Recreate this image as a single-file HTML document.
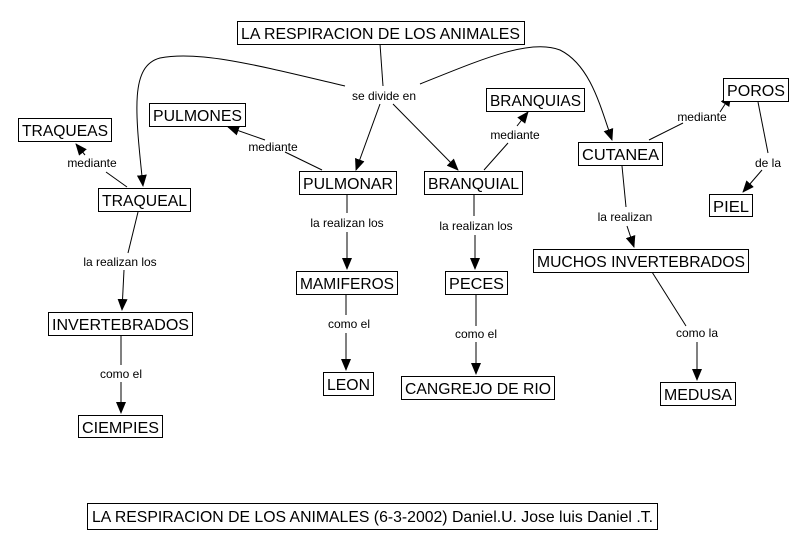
<!DOCTYPE html>
<html><head><meta charset="utf-8"><style>
html,body{margin:0;padding:0;background:#fff;}
svg{display:block;}
.b{fill:#fff;stroke:#000;stroke-width:1;}
.t{font-family:"Liberation Sans",sans-serif;font-size:16px;fill:#000;}
.l{font-family:"Liberation Sans",sans-serif;font-size:12px;fill:#000;}
.c{fill:none;stroke:#000;stroke-width:1;}
</style></head><body>
<svg width="808" height="549" viewBox="0 0 808 549" xmlns="http://www.w3.org/2000/svg">
<defs><marker id="a" markerWidth="12" markerHeight="10" refX="11" refY="5" orient="auto" markerUnits="userSpaceOnUse"><path d="M0,0 L12,5 L0,10 z" fill="#000"/></marker></defs>
<g class="c">
<path d="M380,44 L383,86"/>
<path d="M345,86 C260,66 200,50 160,58 C130,66 135,110 143,186" marker-end="url(#a)"/>
<path d="M420,84 C480,60 530,38 560,50 C590,65 600,105 612,140" marker-end="url(#a)"/>
<path d="M380,104 L356,170" marker-end="url(#a)"/>
<path d="M393,104 L458,170" marker-end="url(#a)"/>
<path d="M127,187 L106,172"/><path d="M85,155 L76,144" marker-end="url(#a)"/>
<path d="M322,170 L285,152"/><path d="M265,140 L228,127" marker-end="url(#a)"/>
<path d="M484,170 L508,143"/><path d="M517,126 L528,112" marker-end="url(#a)"/>
<path d="M649,140 L683,123"/><path d="M720,112 L731,95" marker-end="url(#a)"/>
<path d="M758,102 L768,153"/><path d="M762,170 L743,192" marker-end="url(#a)"/>
<path d="M622,166 L626,207"/><path d="M627,226 L634,247" marker-end="url(#a)"/>
<path d="M138,212 L128,253"/><path d="M124,270 L122,310" marker-end="url(#a)"/>
<path d="M347,195 L347,213"/><path d="M347,232 L347,269" marker-end="url(#a)"/>
<path d="M474,195 L474,216"/><path d="M475,235 L475,269" marker-end="url(#a)"/>
<path d="M652,272 L686,326"/><path d="M697,342 L697,380" marker-end="url(#a)"/>
<path d="M121,336 L121,365"/><path d="M121,382 L121,413" marker-end="url(#a)"/>
<path d="M346,295 L346,315"/><path d="M346,333 L346,370" marker-end="url(#a)"/>
<path d="M476,295 L476,326"/><path d="M476,342 L476,374" marker-end="url(#a)"/>
</g>
<g>
<rect class="b" x="237.5" y="21.5" width="287" height="23"/><text class="t" x="241" y="39" textLength="279" lengthAdjust="spacingAndGlyphs">LA RESPIRACION DE LOS ANIMALES</text>
<rect class="b" x="18.5" y="118.5" width="93" height="23"/><text class="t" x="22" y="136" textLength="86" lengthAdjust="spacingAndGlyphs">TRAQUEAS</text>
<rect class="b" x="149.5" y="103.5" width="96" height="23"/><text class="t" x="153" y="121" textLength="89" lengthAdjust="spacingAndGlyphs">PULMONES</text>
<rect class="b" x="98.5" y="188.5" width="92" height="23"/><text class="t" x="102" y="206" textLength="85" lengthAdjust="spacingAndGlyphs">TRAQUEAL</text>
<rect class="b" x="299.5" y="171.5" width="97" height="23"/><text class="t" x="303" y="189" textLength="90" lengthAdjust="spacingAndGlyphs">PULMONAR</text>
<rect class="b" x="486.5" y="88.5" width="98" height="23"/><text class="t" x="490" y="106" textLength="91" lengthAdjust="spacingAndGlyphs">BRANQUIAS</text>
<rect class="b" x="424.5" y="171.5" width="98" height="23"/><text class="t" x="428" y="189" textLength="91" lengthAdjust="spacingAndGlyphs">BRANQUIAL</text>
<rect class="b" x="578.5" y="142.5" width="84" height="23"/><text class="t" x="582" y="160" textLength="77" lengthAdjust="spacingAndGlyphs">CUTANEA</text>
<rect class="b" x="723.5" y="78.5" width="65" height="23"/><text class="t" x="727" y="96" textLength="58" lengthAdjust="spacingAndGlyphs">POROS</text>
<rect class="b" x="709.5" y="194.5" width="43" height="22"/><text class="t" x="713" y="212" textLength="36" lengthAdjust="spacingAndGlyphs">PIEL</text>
<rect class="b" x="48.5" y="312.5" width="144" height="23"/><text class="t" x="52" y="330" textLength="137" lengthAdjust="spacingAndGlyphs">INVERTEBRADOS</text>
<rect class="b" x="296.5" y="271.5" width="101" height="23"/><text class="t" x="300" y="289" textLength="94" lengthAdjust="spacingAndGlyphs">MAMIFEROS</text>
<rect class="b" x="445.5" y="271.5" width="62" height="23"/><text class="t" x="449" y="289" textLength="55" lengthAdjust="spacingAndGlyphs">PECES</text>
<rect class="b" x="533.5" y="249.5" width="215" height="23"/><text class="t" x="537" y="267" textLength="208" lengthAdjust="spacingAndGlyphs">MUCHOS INVERTEBRADOS</text>
<rect class="b" x="78.5" y="415.5" width="84" height="22"/><text class="t" x="82" y="433" textLength="77" lengthAdjust="spacingAndGlyphs">CIEMPIES</text>
<rect class="b" x="323.5" y="372.5" width="50" height="23"/><text class="t" x="327" y="390" textLength="43" lengthAdjust="spacingAndGlyphs">LEON</text>
<rect class="b" x="401.5" y="376.5" width="153" height="23"/><text class="t" x="405" y="394" textLength="146" lengthAdjust="spacingAndGlyphs">CANGREJO DE RIO</text>
<rect class="b" x="660.5" y="382.5" width="75" height="23"/><text class="t" x="664" y="400" textLength="68" lengthAdjust="spacingAndGlyphs">MEDUSA</text>
<rect class="b" x="87.5" y="503.5" width="570" height="26"/><text class="t" x="92" y="522" textLength="561" lengthAdjust="spacingAndGlyphs">LA RESPIRACION DE LOS ANIMALES (6-3-2002) Daniel.U. Jose luis Daniel .T.</text>
</g>
<g class="l" text-anchor="middle">
<text x="384" y="100">se divide en</text>
<text x="92" y="167">mediante</text>
<text x="273" y="151">mediante</text>
<text x="515" y="139">mediante</text>
<text x="702" y="121">mediante</text>
<text x="768" y="167">de la</text>
<text x="120" y="266">la realizan los</text>
<text x="347" y="227">la realizan los</text>
<text x="476" y="230">la realizan los</text>
<text x="625" y="221">la realizan</text>
<text x="349" y="328">como el</text>
<text x="476" y="338">como el</text>
<text x="121" y="378">como el</text>
<text x="697" y="337">como la</text>
</g>
</svg>
</body></html>
